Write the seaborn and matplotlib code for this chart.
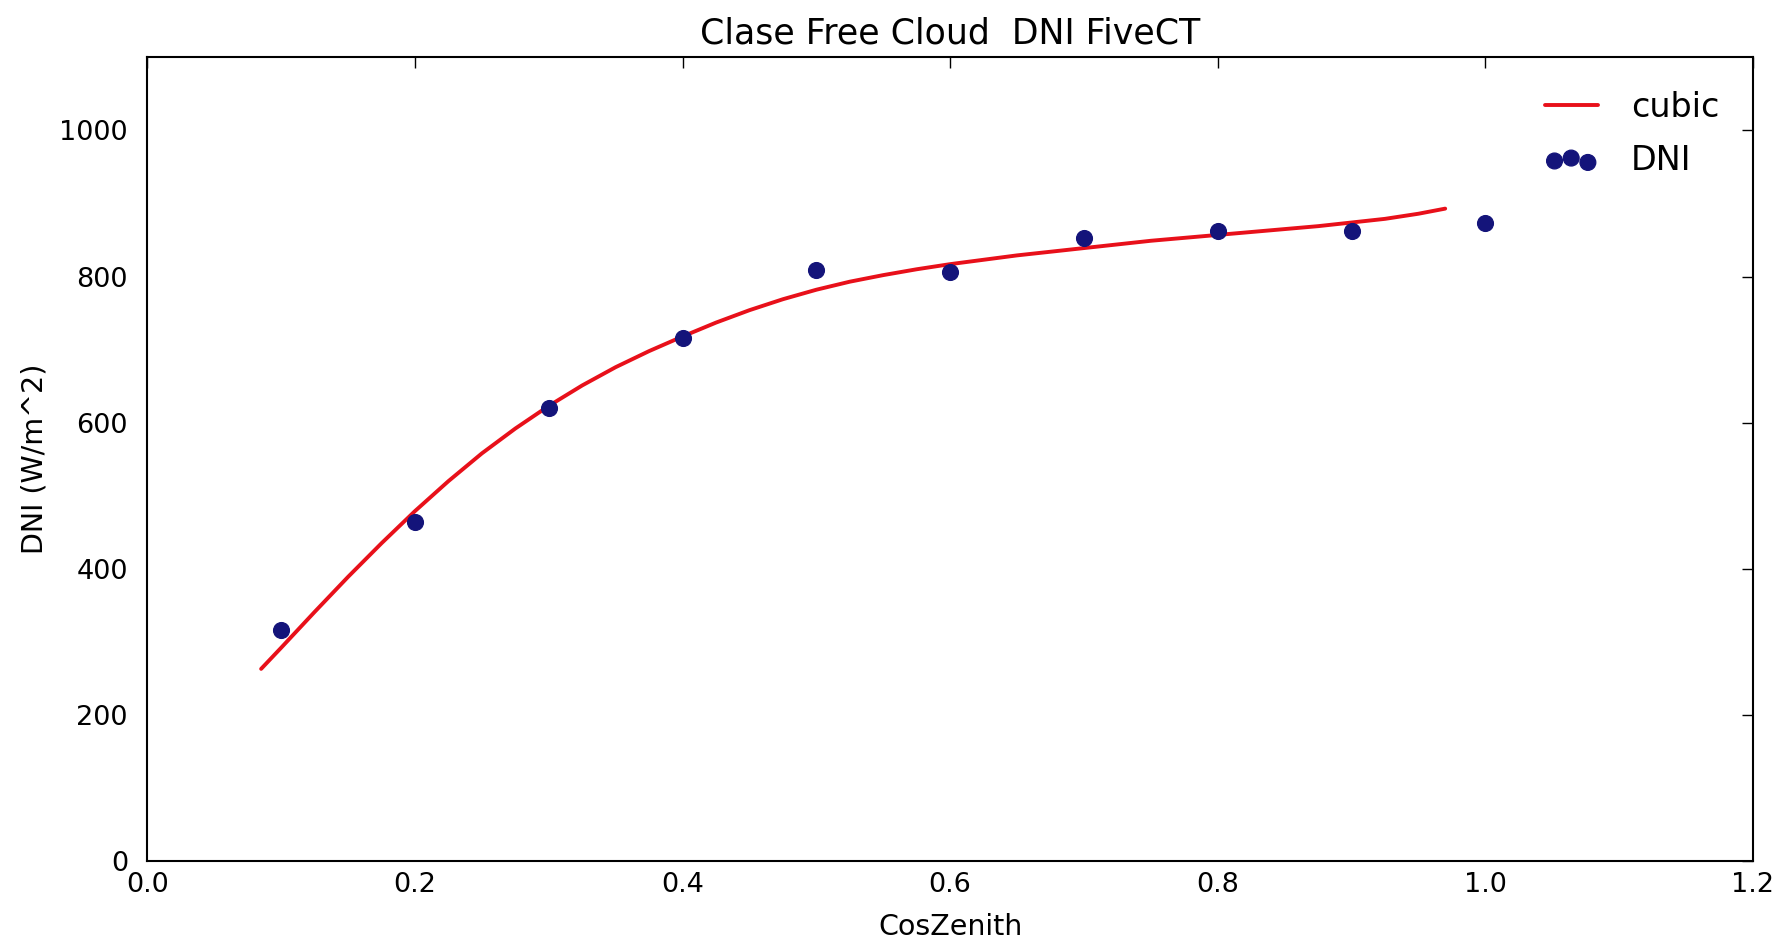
import numpy as np
import pandas as pd
import seaborn as sns
import matplotlib
matplotlib.use("Agg")
import matplotlib.pyplot as plt

# observed points
cos_zenith = [0.1, 0.2, 0.3, 0.4, 0.5, 0.6, 0.7, 0.8, 0.9, 1.0]
dni = [316, 464, 620, 716, 809, 806, 853, 862, 862, 873]

# fitted cubic curve
curve_x = [0.085, 0.100, 0.125, 0.150, 0.175, 0.200, 0.225, 0.250, 0.275, 0.300,
           0.325, 0.350, 0.375, 0.400, 0.425, 0.450, 0.475, 0.500, 0.525, 0.550,
           0.575, 0.600, 0.625, 0.650, 0.675, 0.700, 0.725, 0.750, 0.775, 0.800,
           0.825, 0.850, 0.875, 0.900, 0.925, 0.950, 0.970]
curve_y = [263, 292, 341, 389, 435, 479, 520, 558, 592, 623,
           651, 676, 698, 718, 737, 754, 769, 782, 793, 802,
           810, 817, 823, 829, 834, 839, 844, 849, 853, 857,
           861, 865, 869, 874, 879, 886, 893]

sns.set_theme(style="white")
plt.rcParams['font.family'] = ['DejaVu Sans']
plt.rcParams['text.color'] = 'black'
plt.rcParams['axes.labelcolor'] = 'black'

fig, ax = plt.subplots(figsize=(17.76, 9.41), dpi=100)
fig.subplots_adjust(left=0.083, right=0.987, top=0.939, bottom=0.085)

sns.lineplot(x=curve_x, y=curve_y, ax=ax, color="#e8101a", linewidth=2.8,
             label="cubic", sort=False)
sns.scatterplot(x=cos_zenith, y=dni, ax=ax, color="#14147a", s=130,
                edgecolor="#14147a", label="DNI", zorder=3)

ax.set_xlim(0, 1.2)
ax.set_ylim(0, 1100)
ax.set_xticks([0.0, 0.2, 0.4, 0.6, 0.8, 1.0, 1.2])
ax.set_yticks([0, 200, 400, 600, 800, 1000])
ax.set_xticklabels(["0.0", "0.2", "0.4", "0.6", "0.8", "1.0", "1.2"])
ax.tick_params(direction="in", top=True, right=True, length=8, width=1,
               labelsize=19.5, colors="black")
ax.tick_params(axis="x", pad=8)
ax.tick_params(axis="y", pad=14)
for sp in ax.spines.values():
    sp.set_color("black")
    sp.set_linewidth(1.5)

ax.set_title("Clase Free Cloud  DNI FiveCT", fontsize=25, pad=10, color="black")
ax.set_xlabel("CosZenith", fontsize=20.5, labelpad=11)
ax.set_ylabel("DNI (W/m^2)", fontsize=20.5, labelpad=8)

leg = ax.legend(loc="upper right", frameon=False, fontsize=24, scatterpoints=3,
                handlelength=1.6, handletextpad=1.0, labelspacing=0.6,
                borderaxespad=0.5, borderpad=0.5)
for t in leg.get_texts():
    t.set_color("black")

fig.savefig("out.png", dpi=100, facecolor="white")
